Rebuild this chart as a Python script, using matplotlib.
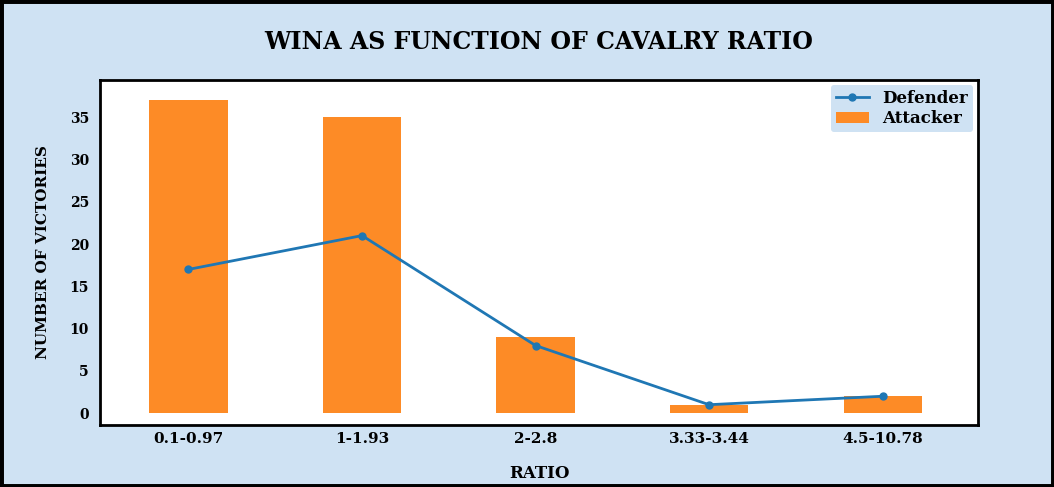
import numpy as np
import matplotlib.pyplot as plt
from matplotlib.patches import Rectangle

# ratio bins and wins
ratio_bins = ['0.1-0.97', '1-1.93', '2-2.8', '3.33-3.44', '4.5-10.78']
attacker_wins = [37, 35, 9, 1, 2]
defender_wins = [17, 21, 8, 1, 2]

bg = '#cfe2f3'
font = 'DejaVu Serif'

fig = plt.figure(figsize=(10.54, 4.87), dpi=100, facecolor=bg)
ax = fig.add_axes([100/1054, 1 - 425/487, 878/1054, 345/487])

x = np.arange(len(ratio_bins))
ax.bar(x, attacker_wins, width=0.45, color='#fd8b26', label='Attacker')
ax.plot(x, defender_wins, color='#1f77b4', marker='o', markersize=5, linewidth=2, label='Defender')

ax.set_xlim(-0.51, 4.55)
ax.set_ylim(-1.4, 39.4)
ax.set_yticks(range(0, 40, 5))
ax.set_xticks(x)
ax.set_xticklabels(ratio_bins, fontfamily=font, fontweight='bold', fontsize=11)
for lbl in ax.get_yticklabels():
    lbl.set_fontfamily(font)
    lbl.set_fontweight('bold')
    lbl.set_fontsize(10)
ax.tick_params(axis='x', length=0, pad=5)
ax.tick_params(axis='y', length=0, pad=8)
for s in ax.spines.values():
    s.set_linewidth(2)

ax.set_title('WINA AS FUNCTION OF CAVALRY RATIO', fontfamily=font, fontweight='bold',
             fontsize=17, pad=22)
ax.set_xlabel('RATIO', fontfamily=font, fontweight='bold', fontsize=12, labelpad=14)
ax.set_ylabel('NUMBER OF VICTORIES', fontfamily=font, fontweight='bold', fontsize=11, labelpad=14)

leg = ax.legend(loc='upper right', prop={'family': font, 'weight': 'bold', 'size': 12},
                facecolor=bg, edgecolor='none', framealpha=1, borderaxespad=0.3,
                handlelength=2.0, labelspacing=0.2, borderpad=0.3)

fig.patches.append(Rectangle((0, 0), 1, 1, transform=fig.transFigure, fill=False,
                             edgecolor='black', linewidth=5, zorder=10))

plt.savefig('out.png', dpi=100, facecolor=bg)
